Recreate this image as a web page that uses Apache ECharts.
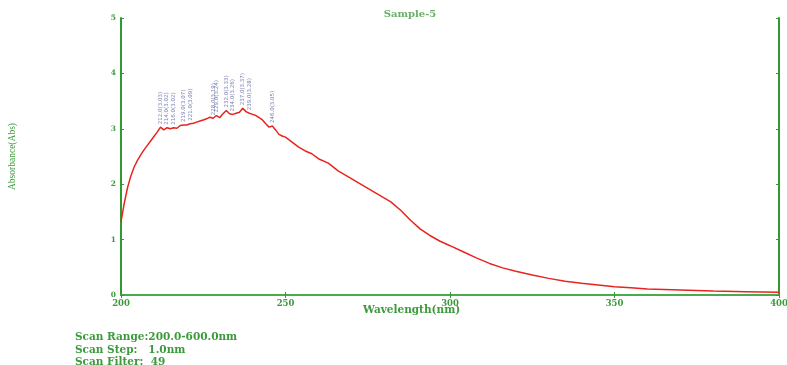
<!DOCTYPE html>
<html>
<head>
<meta charset="utf-8">
<script src="https://cdn.jsdelivr.net/npm/echarts@6/dist/echarts.min.js"></script>
<style>
  html, body { margin: 0; padding: 0; background: #fff; }
  #chart { width: 787px; height: 365px; }
</style>
</head>
<body>
<div id="chart"></div>
<script>
// spectrum
const wavelength = [200, 201, 202, 203, 204, 205, 206, 207, 208, 209, 210, 211, 212, 213, 214, 215, 216, 217, 218, 219,
  220, 221, 222, 223, 224, 225, 226, 227, 228, 229, 230, 231, 232, 233, 234, 235, 236, 237, 238, 239,
  240, 241, 242, 243, 244, 245, 246, 247, 248, 249, 250, 252, 254, 256, 258, 260, 263, 266, 270, 274,
  278, 282, 285, 288, 291, 294, 297, 300, 304, 308, 312, 316, 320, 325, 330, 335, 340, 345, 350, 355,
  360, 370, 380, 390, 400]
const absorbance = [1.32, 1.66, 1.94, 2.15, 2.31, 2.43, 2.53, 2.62, 2.70, 2.78, 2.86, 2.94, 3.03, 2.98, 3.02, 3.00, 3.02, 3.01, 3.06, 3.07,
  3.07, 3.09, 3.10, 3.12, 3.14, 3.16, 3.18, 3.21, 3.19, 3.24, 3.20, 3.27, 3.33, 3.27, 3.26, 3.28, 3.30, 3.37, 3.31, 3.28,
  3.26, 3.24, 3.20, 3.16, 3.09, 3.03, 3.05, 2.98, 2.90, 2.87, 2.85, 2.76, 2.67, 2.60, 2.55, 2.46, 2.38, 2.24, 2.10, 1.96,
  1.82, 1.68, 1.53, 1.35, 1.19, 1.07, 0.97, 0.89, 0.78, 0.67, 0.57, 0.49, 0.43, 0.36, 0.30, 0.25, 0.21, 0.18, 0.15, 0.13,
  0.11, 0.09, 0.07, 0.06, 0.05]

// picked peaks
const peakWl = [212, 214, 216, 219, 221, 228, 229, 232, 234, 237, 239, 246]
const peakAbs = [3.03, 3.02, 3.02, 3.07, 3.09, 3.19, 3.24, 3.33, 3.26, 3.37, 3.28, 3.05]

const xTicks = [200, 250, 300, 350, 400]
const yTicks = [0, 1, 2, 3, 4, 5]

const scanInfo = [
  'Scan Range:200.0-600.0nm',
  'Scan Step:   1.0nm',
  'Scan Filter:  49'
]

const green = '#2f9a2f'
const textGreen = '#3c9a3c'
const serif = '"DejaVu Serif", serif'
const narrowSerif = '"Liberation Serif", serif'

const chart = echarts.init(document.getElementById('chart'))

const axisCommon = {
  type: 'value',
  axisLine: { show: true, lineStyle: { color: green, width: 2 } },
  axisTick: { show: true, inside: true, length: 3, lineStyle: { color: green } },
  splitLine: { show: false }
}

const option = {
  backgroundColor: '#fff',
  animation: false,
  title: {
    text: 'Sample-5',
    left: 405,
    top: 4,
    textAlign: 'center',
    textStyle: { color: '#6aae6a', fontFamily: serif, fontSize: 10, fontWeight: 'bold' }
  },
  grid: { left: 121, right: 8, top: 18, bottom: 70, outerBoundsMode: 'none', containLabel: false },
  xAxis: [
    Object.assign({}, axisCommon, {
      position: 'bottom',
      min: xTicks[0],
      max: xTicks[xTicks.length - 1],
      interval: 50,
      axisLabel: { color: textGreen, fontFamily: serif, fontSize: 8.5, fontWeight: 'bold', margin: 4 }
    }),
    Object.assign({}, axisCommon, {
      position: 'top',
      min: xTicks[0],
      max: xTicks[xTicks.length - 1],
      interval: 50,
      axisLine: { show: true, lineStyle: { color: '#4aab4a', width: 2 } },
      axisLabel: { show: false }
    })
  ],
  yAxis: [
    Object.assign({}, axisCommon, {
      position: 'left',
      min: yTicks[0],
      max: yTicks[yTicks.length - 1],
      interval: 1,
      name: 'Absorbance(Abs)',
      nameLocation: 'middle',
      nameRotate: 90,
      nameGap: 104,
      nameTextStyle: { color: textGreen, fontFamily: narrowSerif, fontSize: 9.5 },
      axisLabel: { color: textGreen, fontFamily: serif, fontSize: 7.5, fontWeight: 'bold', margin: 5 }
    }),
    Object.assign({}, axisCommon, {
      position: 'right',
      min: yTicks[0],
      max: yTicks[yTicks.length - 1],
      interval: 1,
      axisLabel: { show: false }
    })
  ],
  graphic: [
    {
      type: 'text',
      left: 363,
      top: 305,
      style: { text: 'Wavelength(nm)', fill: textGreen, font: 'bold 10.5px ' + serif }
    },
    {
      type: 'group',
      left: 75,
      top: 332,
      children: scanInfo.map((t, i) => ({
        type: 'text',
        x: 0,
        y: i * 12.5,
        style: { text: t, fill: textGreen, font: 'bold 10.5px ' + serif }
      }))
    }
  ],
  series: [
    {
      type: 'line',
      data: wavelength.map((w, i) => [w, absorbance[i]]),
      showSymbol: false,
      smooth: false,
      lineStyle: { color: '#e8241f', width: 1.5 },
      z: 3
    },
    {
      type: 'scatter',
      data: peakWl.map((w, i) => [w, peakAbs[i]]),
      symbolSize: 0,
      label: {
        show: true,
        position: 'top',
        rotate: 90,
        align: 'left',
        verticalAlign: 'middle',
        distance: 3,
        color: '#5a609e',
        fontSize: 5.5,
        fontFamily: 'DejaVu Sans',
        formatter: p => p.value[0].toFixed(1) + '(' + p.value[1].toFixed(2) + ')'
      },
      z: 4
    }
  ]
}

chart.setOption(option)
</script>
</body>
</html>
